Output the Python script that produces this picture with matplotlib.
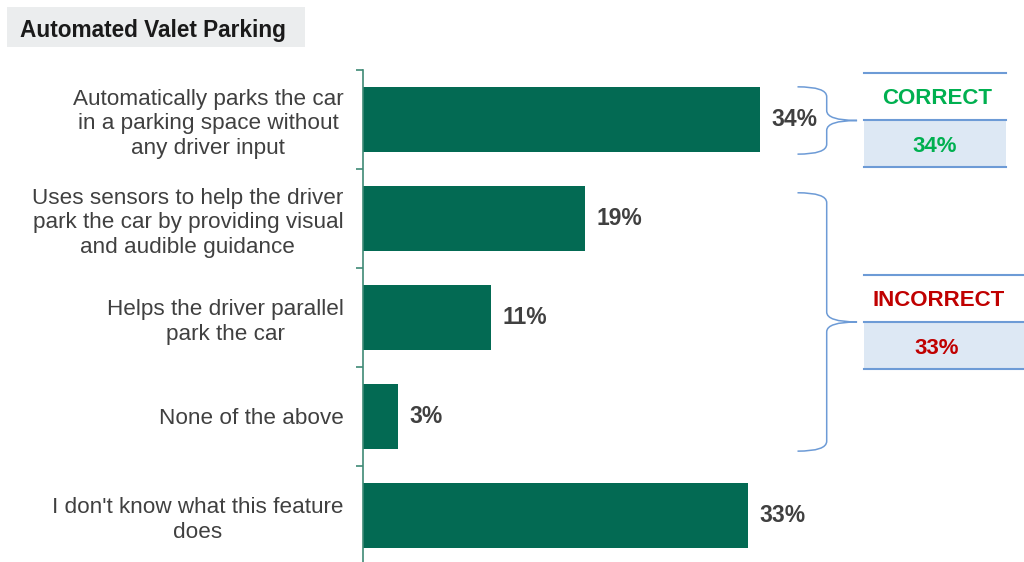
import matplotlib
matplotlib.use('Agg')
import matplotlib.pyplot as plt
from matplotlib.path import Path
from matplotlib.patches import PathPatch, Rectangle
from matplotlib.lines import Line2D

plt.rcParams['font.family'] = ['Liberation Sans', 'DejaVu Sans']

# Survey answers and share of respondents (%)
answers = [
    "Automatically parks the car\nin a parking space without\nany driver input",
    "Uses sensors to help the driver\npark the car by providing visual\nand audible guidance",
    "Helps the driver parallel\npark the car",
    "None of the above",
    "I don't know what this feature\ndoes",
]
shares = [34, 19, 11, 3, 33]

# Summary boxes: label, value, text colour, answers covered (first, last)
summary_labels = ["CORRECT", "INCORRECT"]
summary_values = [34, 33]
summary_colors = ['#00b050', '#c00000']
summary_groups = [(0, 0), (1, 3)]

BAR = '#036a53'
AXIS = '#3f8a76'
TEXT = '#404040'
BLUE = '#6d9bd6'
FILL = '#dde8f4'

fig = plt.figure(figsize=(10.24, 5.62), dpi=100)
ax = fig.add_axes([363 / 1024, -3 / 562, 661 / 1024, 495 / 562])

ypos = list(range(len(answers)))
ax.barh(ypos, shares, height=0.66, color=BAR)
ax.set_ylim(len(answers) - 0.5, -0.5)
ax.set_xlim(0, 661 / 11.68)

for y, v in zip(ypos, shares):
    ax.text(v + 0.95, y, f"{v}%", va='center', ha='left', fontsize=16.5,
            fontweight='bold', color=TEXT)

# boundaries get the tick marks, centres get the labels
ax.set_yticks([i - 0.5 for i in range(len(answers) + 1)])
ax.set_yticklabels([])
ax.set_yticks(ypos, minor=True)
ax.set_yticklabels(answers, minor=True, fontsize=16.2, color=TEXT,
                   multialignment='center', linespacing=1.22)
ax.tick_params(axis='y', which='major', length=5, width=1.2, color=AXIS)
ax.tick_params(axis='y', which='minor', length=0, pad=14)
ax.set_xticks([])
for s in ['top', 'right', 'bottom']:
    ax.spines[s].set_visible(False)
ax.spines['left'].set_color(AXIS)
ax.spines['left'].set_linewidth(1.2)


def brace(ax, y0, y1, x0=37.2, x1=39.7, x2=42.3, r=0.1):
    """Right-facing curly brace from y0 (top) to y1 (bottom) in data units."""
    ym = (y0 + y1) / 2
    verts = [
        (x0, y0), (x1, y0), (x1, y0 + r),
        (x1, ym - r),
        (x1, ym), (x2, ym),
        (x1, ym), (x1, ym + r),
        (x1, y1 - r),
        (x1, y1), (x0, y1),
    ]
    codes = [Path.MOVETO, Path.CURVE3, Path.CURVE3, Path.LINETO,
             Path.CURVE3, Path.CURVE3, Path.CURVE3, Path.CURVE3,
             Path.LINETO, Path.CURVE3, Path.CURVE3]
    ax.add_patch(PathPatch(Path(verts, codes), facecolor='none',
                           edgecolor=BLUE, lw=1.1, clip_on=False))
    return ym


box_right = [1006, 1024]
for (g0, g1), lab, val, col, xr in zip(summary_groups, summary_labels,
                                       summary_values, summary_colors, box_right):
    top = g0 - 0.33 if g0 == g1 else g0 - 0.26
    ym = brace(ax, top, g1 + 0.35)
    # brace tip in figure pixels
    _, py = ax.transData.transform((0, ym))
    h = 47
    x0 = 864
    fig.add_artist(Rectangle((x0 / 1024, (py - h) / 562), (xr - x0) / 1024, h / 562,
                             transform=fig.transFigure, facecolor=FILL,
                             edgecolor='none'))
    for yy in (py + h, py, py - h):
        fig.add_artist(Line2D([x0 / 1024, xr / 1024], [yy / 562, yy / 562],
                              transform=fig.transFigure, color=BLUE, lw=1.5))
    cx = (x0 + min(xr, 1010)) / 2 / 1024
    fig.text(cx + 0.002, (py + h / 2 - 2) / 562, lab, ha='center', va='center',
             fontsize=16, fontweight='bold', color=col)
    fig.text(cx, (py - h / 2 - 3) / 562, f"{val}%", ha='center', va='center',
             fontsize=16, fontweight='bold', color=col)

# title tab
fig.add_artist(Rectangle((7 / 1024, (562 - 47) / 562), 298 / 1024, 40 / 562,
                         transform=fig.transFigure, facecolor='#ebedee',
                         edgecolor='none'))
fig.text(20 / 1024, (562 - 30) / 562, "Automated Valet Parking", ha='left',
         va='center', fontsize=16.3, fontweight='bold', color='#1a1a1a')

fig.savefig('out.png', dpi=100)
